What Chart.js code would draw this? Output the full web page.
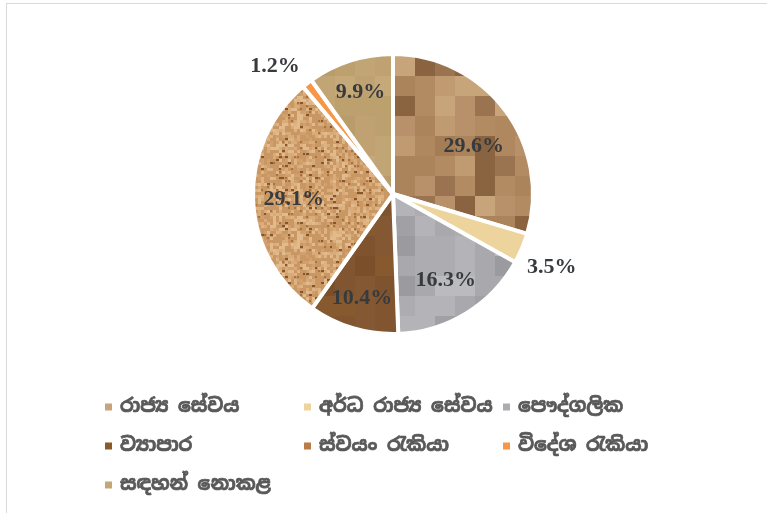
<!DOCTYPE html>
<html>
<head>
<meta charset="utf-8">
<script src="https://cdn.jsdelivr.net/npm/chart.js@4.4.1/dist/chart.umd.min.js"></script>
<style>
  html, body { margin: 0; padding: 0; background: #fff; }
  body { width: 767px; height: 513px; position: relative; overflow: hidden; }
  #frame { position: absolute; left: 6px; top: 3px; width: 800px; height: 560px; border: 1.5px solid #d9d9d9; }
  #wrap { position: absolute; left: 0; top: 0; width: 767px; height: 513px; }
</style>
</head>
<body>
<div id="frame"></div>
<div id="wrap"><canvas id="pieChart" width="767" height="513"></canvas></div>
<script>
// slice labels (Sinhala) and shares in percent
const categories = ['රාජ්‍ය සේවය', 'අර්ධ රාජ්‍ය සේවය', 'පෞද්ගලික', 'ව්‍යාපාර', 'ස්වයං රැකියා', 'විදේශ රැකියා', 'සඳහන් නොකළ'];
const shares = [29.6, 3.5, 16.3, 10.4, 29.1, 1.2, 9.9];

// legend swatch colours (average tone of each fill)
const swatchColors = ['#c8a47e', '#edd39c', '#acacb0', '#8b5a2b', '#b97c48', '#f79646', '#c4a777'];

// label distance from centre (fraction of radius) and nudge off the mid angle (degrees)
const labelRadius = [0.67, 1.25, 0.72, 0.78, 0.71, 1.24, 0.76];
const labelShift = [6, 2, 0, 0, -1, -5, 0];

// small deterministic hash so textures look the same every run
function hash(x, y, s) {
  let h = (x * 374761393 + y * 668265263 + s * 982451653) | 0;
  h = (h ^ (h >>> 13)) * 1274126177 | 0;
  return ((h ^ (h >>> 16)) >>> 0) / 4294967296;
}

function mosaic(shades, cell, n, seed) {
  const c = document.createElement('canvas');
  c.width = c.height = cell * n;
  const g = c.getContext('2d');
  for (let i = 0; i < n; i++) {
    for (let j = 0; j < n; j++) {
      g.fillStyle = shades[Math.floor(hash(i, j, seed) * shades.length)];
      g.fillRect(i * cell, j * cell, cell, cell);
    }
  }
  const p = g.createPattern(c, 'repeat');
  p.setTransform(new DOMMatrix().translate(395, 56));
  return p;
}

function cork() {
  const c = document.createElement('canvas');
  c.width = c.height = 120;
  const g = c.getContext('2d');
  g.fillStyle = '#c99763';
  g.fillRect(0, 0, 120, 120);
  const light = ['#d9ab78', '#deb384', '#d2a06c', '#e2bb8c'];
  for (let i = 0; i < 40; i++) {
    for (let j = 0; j < 40; j++) {
      const r = hash(i, j, 7);
      if (r < 0.5) {
        g.fillStyle = light[Math.floor(hash(j, i, 11) * light.length)];
        g.fillRect(i * 3, j * 3, 3, 3);
      } else if (r > 0.9) {
        g.fillStyle = r > 0.96 ? '#86552d' : '#a8733f';
        g.fillRect(i * 3, j * 3, 2 + (r > 0.97 ? 1 : 0), 2);
      }
    }
  }
  return g.createPattern(c, 'repeat');
}

const fills = [
  mosaic(['#c09a70', '#b38b62', '#a47c55', '#b8906a', '#9a7450', '#8a6440', '#c8a47a', '#ab845c', '#b08860'], 20, 8, 1),
  '#edd39c',
  mosaic(['#a9a9ad', '#b4b4b8', '#a0a0a5', '#adadb1', '#bbbbbf', '#9a9a9f'], 20, 8, 2),
  mosaic(['#7e532d', '#835832', '#7a4f2a', '#86592f', '#80552f'], 20, 8, 3),
  cork(),
  '#f79646',
  mosaic(['#c2a574', '#bca06e', '#c6a978', '#b89c6a', '#c0a272'], 20, 8, 4)
];

// percent labels drawn around each arc's mid angle
const pctLabels = {
  id: 'pctLabels',
  afterDatasetsDraw(chart) {
    const ctx = chart.ctx;
    const meta = chart.getDatasetMeta(0);
    ctx.save();
    ctx.font = 'bold 22px "Liberation Serif", "Times New Roman", serif';
    ctx.fillStyle = '#383b3e';
    ctx.textAlign = 'center';
    ctx.textBaseline = 'middle';
    meta.data.forEach((arc, i) => {
      const p = arc.getProps(['x', 'y', 'startAngle', 'endAngle', 'outerRadius'], true);
      const mid = (p.startAngle + p.endAngle) / 2 + labelShift[i] * Math.PI / 180;
      const r = p.outerRadius * labelRadius[i];
      ctx.fillText(shares[i].toFixed(1) + '%', p.x + Math.cos(mid) * r, p.y + Math.sin(mid) * r);
    });
    ctx.restore();
  }
};

// three-column legend under the pie
const gridLegend = {
  id: 'gridLegend',
  afterDraw(chart) {
    const ctx = chart.ctx;
    const colX = [105, 304, 503];
    const rowY = [407, 446, 485];
    ctx.save();
    ctx.font = 'bold 19px "Noto Sans Sinhala", "Iskoola Pota", sans-serif';
    ctx.textBaseline = 'middle';
    ctx.lineWidth = 0.7;
    ctx.strokeStyle = '#595959';
    categories.forEach((name, i) => {
      const x = colX[i % 3];
      const y = rowY[Math.floor(i / 3)];
      ctx.fillStyle = swatchColors[i];
      ctx.fillRect(x, y - 3.5, 7, 7);
      ctx.fillStyle = '#595959';
      ctx.fillText(name, x + 15, y);
      ctx.strokeText(name, x + 15, y);
    });
    ctx.restore();
  }
};

new Chart(document.getElementById('pieChart'), {
  type: 'pie',
  data: {
    labels: categories,
    datasets: [{
      data: shares,
      backgroundColor: fills,
      borderColor: '#ffffff',
      borderWidth: 4
    }]
  },
  options: {
    responsive: false,
    animation: false,
    layout: { padding: { top: 52, bottom: 177, left: 19, right: 0 } },
    plugins: {
      legend: { display: false },
      tooltip: { enabled: false }
    }
  },
  plugins: [pctLabels, gridLegend]
});
</script>
</body>
</html>
